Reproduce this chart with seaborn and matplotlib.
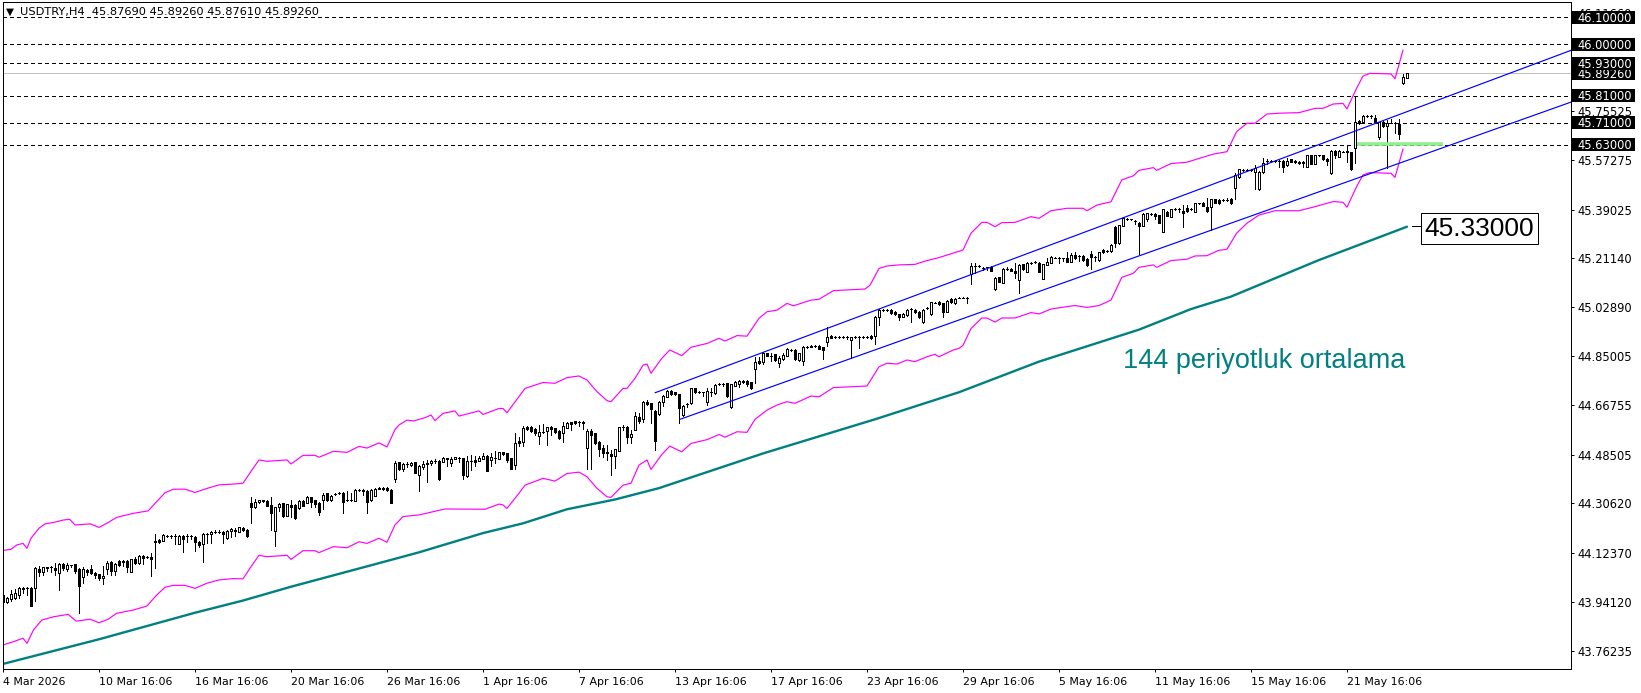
import matplotlib
matplotlib.use("Agg")
import matplotlib.pyplot as plt
from matplotlib.patches import Rectangle
import numpy as np
import seaborn as sns

OPEN = [
43.968,43.943,43.952,43.955,43.969,43.995,43.992,43.995,43.992,44.064,
44.054,44.068,44.069,44.068,44.048,44.082,44.064,44.078,44.081,44.064,
44.033,44.060,44.064,44.050,44.044,44.032,44.064,44.091,44.057,44.093,
44.089,44.093,44.054,44.102,44.084,44.112,44.108,44.107,44.163,44.171,
44.168,44.186,44.187,44.187,44.156,44.185,44.187,44.185,44.183,44.164,
44.155,44.192,44.192,44.201,44.200,44.199,44.178,44.204,44.205,44.201,
44.216,44.208,44.308,44.294,44.310,44.317,44.316,44.300,44.205,44.291,
44.306,44.260,44.300,44.300,44.287,44.316,44.308,44.328,44.318,44.308,
44.318,44.343,44.318,44.339,44.343,44.345,44.318,44.318,44.316,44.355,
44.354,44.353,44.318,44.334,44.364,44.361,44.361,44.355,44.395,44.457,
44.431,44.451,44.447,44.457,44.410,44.441,44.452,44.453,44.462,44.462,
44.460,44.472,44.456,44.470,44.474,44.473,44.408,44.462,44.466,44.463,
44.471,44.481,44.466,44.474,44.471,44.494,44.490,44.473,44.449,44.536,
44.533,44.588,44.588,44.579,44.556,44.570,44.573,44.586,44.583,44.573,
44.567,44.585,44.605,44.608,44.607,44.605,44.511,44.573,44.564,44.531,
44.509,44.494,44.488,44.482,44.500,44.586,44.588,44.552,44.577,44.626,
44.617,44.681,44.675,44.647,44.634,44.681,44.700,44.721,44.716,44.708,
44.632,44.673,44.675,44.730,44.718,44.716,44.681,44.718,44.712,44.746,
44.746,44.749,44.660,44.740,44.746,44.759,44.758,44.753,44.801,44.831,
44.829,44.860,44.851,44.856,44.825,44.837,44.851,44.872,44.872,44.835,
44.833,44.884,44.884,44.887,44.888,44.882,44.900,44.924,44.921,44.920,
44.919,44.919,44.909,44.921,44.921,44.921,44.919,44.924,44.924,44.992,
45.020,45.020,45.020,45.013,45.003,44.995,45.001,45.022,45.020,45.013,
44.974,45.026,45.003,45.047,45.050,45.044,45.013,45.060,45.044,45.065,
45.065,45.065,45.151,45.183,45.183,45.174,45.177,45.180,45.096,45.140,
45.121,45.171,45.171,45.164,45.130,45.189,45.161,45.194,45.196,45.194,
45.135,45.186,45.194,45.213,45.213,45.210,45.213,45.198,45.223,45.220,
45.220,45.208,45.225,45.216,45.204,45.241,45.237,45.237,45.327,45.266,
45.331,45.356,45.354,45.349,45.342,45.331,45.356,45.374,45.374,45.370,
45.309,45.383,45.364,45.392,45.392,45.386,45.395,45.392,45.383,45.413,
45.416,45.401,45.399,45.429,45.426,45.426,45.426,45.430,45.469,45.512,
45.537,45.537,45.537,45.530,45.465,45.528,45.571,45.571,45.570,45.571,
45.570,45.553,45.576,45.571,45.567,45.565,45.549,45.590,45.559,45.590,
45.590,45.577,45.524,45.608,45.586,45.604,45.608,45.601,45.617,45.719,
45.715,45.735,45.735,45.727,45.657,45.715,45.699,45.711,45.709,45.706,
45.856,45.8769]
HIGH = [
43.986,43.961,43.986,43.989,43.996,43.996,43.998,43.998,44.072,44.075,
44.072,44.072,44.075,44.084,44.084,44.084,44.084,44.080,44.083,44.066,
44.070,44.064,44.078,44.053,44.046,44.075,44.093,44.094,44.085,44.097,
44.096,44.096,44.101,44.109,44.115,44.115,44.113,44.121,44.192,44.175,
44.192,44.190,44.190,44.192,44.190,44.188,44.192,44.188,44.186,44.166,
44.195,44.195,44.204,44.207,44.207,44.203,44.207,44.213,44.216,44.219,
44.219,44.210,44.331,44.322,44.320,44.320,44.318,44.331,44.293,44.306,
44.308,44.304,44.318,44.302,44.318,44.318,44.333,44.330,44.320,44.310,
44.343,44.345,44.337,44.343,44.347,44.347,44.353,44.343,44.357,44.358,
44.357,44.356,44.357,44.362,44.367,44.365,44.365,44.357,44.463,44.459,
44.456,44.457,44.459,44.459,44.446,44.462,44.466,44.466,44.468,44.464,
44.478,44.475,44.478,44.478,44.477,44.475,44.481,44.484,44.481,44.481,
44.493,44.483,44.493,44.499,44.496,44.496,44.492,44.475,44.564,44.549,
44.591,44.591,44.590,44.585,44.595,44.599,44.588,44.591,44.585,44.575,
44.606,44.606,44.607,44.610,44.610,44.610,44.580,44.580,44.566,44.536,
44.521,44.521,44.503,44.507,44.589,44.594,44.590,44.577,44.642,44.638,
44.683,44.687,44.677,44.650,44.684,44.706,44.724,44.723,44.718,44.710,
44.669,44.676,44.733,44.732,44.721,44.718,44.733,44.733,44.745,44.749,
44.749,44.751,44.748,44.759,44.761,44.761,44.760,44.755,44.847,44.847,
44.864,44.862,44.860,44.858,44.849,44.862,44.878,44.875,44.874,44.862,
44.886,44.887,44.890,44.890,44.890,44.884,44.956,44.926,44.924,44.923,
44.922,44.922,44.921,44.924,44.924,44.924,44.922,44.926,44.997,45.024,
45.023,45.023,45.022,45.015,45.005,45.007,45.022,45.028,45.022,45.015,
45.022,45.030,45.050,45.050,45.052,45.046,45.055,45.062,45.065,45.068,
45.068,45.068,45.192,45.192,45.186,45.177,45.180,45.182,45.141,45.142,
45.173,45.180,45.173,45.194,45.188,45.191,45.196,45.197,45.199,45.196,
45.191,45.210,45.218,45.216,45.216,45.213,45.233,45.229,45.233,45.223,
45.222,45.210,45.237,45.219,45.234,45.243,45.240,45.262,45.329,45.335,
45.364,45.359,45.357,45.352,45.344,45.376,45.379,45.377,45.376,45.372,
45.394,45.385,45.394,45.395,45.395,45.407,45.407,45.395,45.415,45.416,
45.418,45.432,45.431,45.431,45.428,45.429,45.432,45.432,45.524,45.541,
45.540,45.540,45.540,45.553,45.532,45.580,45.577,45.574,45.573,45.574,
45.572,45.580,45.578,45.573,45.569,45.570,45.592,45.592,45.592,45.593,
45.592,45.579,45.610,45.610,45.610,45.607,45.628,45.603,45.804,45.721,
45.740,45.738,45.740,45.740,45.715,45.721,45.721,45.724,45.712,45.724,
45.891,45.8926]
LOW = [
43.939,43.937,43.947,43.952,43.955,43.976,43.968,43.928,43.947,44.039,
44.041,44.056,44.054,44.041,43.986,44.060,44.057,44.072,44.048,43.902,
44.013,44.041,44.044,44.029,44.023,44.009,44.044,44.041,44.041,44.075,
44.075,44.054,44.054,44.082,44.082,44.081,44.104,44.039,44.066,44.160,
44.165,44.183,44.177,44.156,44.154,44.128,44.164,44.175,44.131,44.144,
44.091,44.158,44.158,44.196,44.195,44.158,44.176,44.183,44.187,44.199,
44.205,44.180,44.235,44.287,44.308,44.310,44.295,44.208,44.150,44.279,
44.254,44.258,44.257,44.249,44.285,44.295,44.306,44.291,44.294,44.263,
44.285,44.316,44.316,44.335,44.339,44.271,44.314,44.314,44.314,44.350,
44.337,44.271,44.316,44.332,44.358,44.354,44.352,44.306,44.386,44.429,
44.427,44.441,44.445,44.417,44.353,44.431,44.386,44.447,44.453,44.392,
44.458,44.444,44.444,44.468,44.460,44.396,44.402,44.429,44.444,44.461,
44.469,44.424,44.444,44.456,44.469,44.485,44.460,44.432,44.434,44.519,
44.519,44.577,44.571,44.558,44.524,44.567,44.521,44.558,44.564,44.545,
44.533,44.583,44.577,44.600,44.592,44.580,44.431,44.431,44.525,44.481,
44.476,44.466,44.410,44.435,44.498,44.577,44.530,44.530,44.575,44.601,
44.607,44.670,44.601,44.503,44.632,44.666,44.698,44.706,44.706,44.601,
44.630,44.663,44.673,44.714,44.712,44.703,44.669,44.703,44.710,44.743,
44.739,44.700,44.658,44.738,44.734,44.751,44.739,44.728,44.749,44.820,
44.820,44.848,44.831,44.833,44.810,44.835,44.849,44.868,44.835,44.833,
44.817,44.880,44.882,44.883,44.874,44.839,44.887,44.915,44.918,44.917,
44.916,44.914,44.841,44.918,44.880,44.918,44.916,44.913,44.894,44.964,
45.017,45.017,45.005,45.001,44.983,44.993,44.999,44.974,45.010,44.990,
44.972,45.022,45.001,45.044,45.038,44.995,45.011,45.046,45.042,45.062,
45.062,45.044,45.116,45.155,45.180,45.167,45.167,45.162,45.094,45.122,
45.119,45.168,45.162,45.137,45.081,45.169,45.159,45.191,45.193,45.159,
45.133,45.184,45.192,45.210,45.194,45.200,45.196,45.196,45.208,45.200,
45.202,45.183,45.171,45.202,45.202,45.230,45.234,45.235,45.251,45.264,
45.329,45.353,45.351,45.336,45.226,45.329,45.348,45.371,45.356,45.340,
45.307,45.365,45.362,45.389,45.383,45.327,45.383,45.389,45.381,45.410,
45.403,45.383,45.315,45.414,45.411,45.423,45.423,45.412,45.430,45.506,
45.534,45.534,45.534,45.465,45.463,45.526,45.558,45.568,45.567,45.549,
45.530,45.551,45.565,45.563,45.559,45.549,45.547,45.557,45.557,45.587,
45.575,45.555,45.522,45.580,45.584,45.601,45.565,45.537,45.561,45.707,
45.713,45.732,45.730,45.711,45.651,45.695,45.543,45.708,45.672,45.651,
45.854,45.8761]
CLOSE = [
43.943,43.955,43.970,43.974,43.995,43.991,43.993,43.928,44.068,44.054,
44.070,44.069,44.070,44.060,44.082,44.066,44.078,44.077,44.057,44.001,
44.064,44.052,44.048,44.043,44.030,44.039,44.085,44.057,44.082,44.078,
44.093,44.070,44.099,44.084,44.112,44.105,44.109,44.102,44.165,44.163,
44.188,44.187,44.186,44.186,44.187,44.173,44.186,44.184,44.163,44.153,
44.193,44.191,44.201,44.200,44.201,44.192,44.205,44.211,44.206,44.217,
44.208,44.187,44.294,44.310,44.317,44.316,44.297,44.269,44.291,44.303,
44.260,44.302,44.294,44.253,44.316,44.297,44.330,44.312,44.303,44.275,
44.337,44.318,44.334,44.340,44.344,44.312,44.319,44.319,44.355,44.354,
44.353,44.312,44.355,44.359,44.360,44.360,44.355,44.308,44.454,44.431,
44.451,44.451,44.456,44.419,44.444,44.451,44.453,44.463,44.462,44.396,
44.472,44.471,44.468,44.476,44.474,44.410,44.462,44.462,44.460,44.473,
44.481,44.426,44.476,44.474,44.494,44.488,44.466,44.434,44.530,44.530,
44.583,44.580,44.573,44.564,44.568,44.570,44.586,44.579,44.568,44.547,
44.591,44.602,44.600,44.602,44.607,44.601,44.573,44.558,44.527,44.505,
44.490,44.490,44.482,44.505,44.586,44.586,44.552,44.561,44.628,44.611,
44.681,44.672,44.654,44.537,44.681,44.702,44.722,44.708,44.708,44.659,
44.665,44.673,44.730,44.716,44.718,44.716,44.721,44.718,44.743,44.746,
44.746,44.702,44.746,44.753,44.759,44.753,44.745,44.730,44.826,44.825,
44.862,44.850,44.851,44.835,44.841,44.853,44.874,44.872,44.837,44.860,
44.884,44.884,44.888,44.887,44.876,44.872,44.919,44.917,44.921,44.920,
44.919,44.919,44.919,44.921,44.921,44.921,44.919,44.915,44.995,45.020,
45.020,45.020,45.007,45.003,44.995,45.005,45.020,45.022,45.012,44.992,
45.020,45.026,45.048,45.047,45.040,45.013,45.053,45.048,45.060,45.065,
45.065,45.065,45.182,45.183,45.183,45.174,45.177,45.164,45.139,45.124,
45.171,45.171,45.164,45.155,45.186,45.171,45.194,45.194,45.196,45.161,
45.189,45.198,45.216,45.213,45.213,45.210,45.198,45.223,45.210,45.220,
45.204,45.185,45.216,45.216,45.232,45.232,45.237,45.260,45.266,45.333,
45.358,45.356,45.354,45.349,45.330,45.374,45.376,45.374,45.368,45.342,
45.392,45.367,45.392,45.392,45.392,45.376,45.385,45.392,45.413,45.413,
45.405,45.385,45.429,45.416,45.413,45.426,45.426,45.414,45.518,45.539,
45.537,45.537,45.537,45.543,45.530,45.564,45.571,45.571,45.570,45.571,
45.549,45.571,45.567,45.565,45.561,45.561,45.590,45.559,45.590,45.590,
45.577,45.570,45.608,45.590,45.608,45.604,45.601,45.539,45.713,45.709,
45.736,45.735,45.735,45.713,45.713,45.697,45.709,45.711,45.709,45.668,
45.878,45.8926]

UPPER_BAR = [0,2,3.4,5,6,7,9,10.5,12.6,15,16.7,18,21.8,24,26.3,28.4,32.6,36.3,38.4,40.5,42.6,45.5,48,51,54,57.6,60,
             62,64,66,71,72,75,78,79,82.6,86,89,91,94,96,98,99,101,102.6,105.5,107,108,110,113,114,119,120,124,125,126,
             129,130.5,135,138,141,144,146,148.5,151,152,155,156,158,160,161,162,164.7,166.7,169.7,172,176,179,180.5,
             183.5,186,189,191,193.5,196,197.6,202,204,207.6,215.5,216.8,219,221,224,228,230.5,234,236.8,240,242,244.7,
             246,248,249.7,253,257,259,262,266,270,271,273.5,277,279.7,282.6,284,287.6,288.4,292,296,299,302.6,306,
             308.4,311,313,316,319,324,328,330,332.6,335,336,338.4,340,341.7,347,348,350]
UPPER_VAL = [44.132,44.136,44.152,44.158,44.140,44.177,44.214,44.230,44.235,44.244,44.247,44.226,44.230,44.217,44.235,44.254,44.269,44.278,44.312,44.345,44.358,44.358,44.346,44.361,44.374,44.377,44.380,
             44.424,44.466,44.461,44.466,44.451,44.483,44.483,44.476,44.498,44.494,44.516,44.510,44.529,44.514,44.578,44.595,44.613,44.610,44.622,44.632,44.611,44.638,44.647,44.628,44.647,44.634,44.656,44.656,44.640,
             44.700,44.730,44.752,44.749,44.770,44.776,44.761,44.718,44.685,44.681,44.730,44.730,44.767,44.816,44.820,44.786,44.841,44.872,44.851,44.882,44.896,44.915,44.905,
             44.925,44.923,44.989,45.013,45.019,45.044,45.035,45.056,45.059,45.091,45.097,45.112,45.173,45.182,45.186,45.188,45.200,45.213,45.226,45.241,45.303,45.343,
             45.343,45.327,45.342,45.343,45.364,45.358,45.386,45.395,45.395,45.386,45.407,45.419,45.500,45.515,45.535,45.545,45.535,45.560,45.565,45.579,45.595,45.604,
             45.678,45.709,45.709,45.743,45.746,45.748,45.764,45.764,45.780,45.782,45.762,45.838,45.883,45.893,45.891,45.873,45.979]
LOWER_BAR = [0,2.6,5,6,7.6,9.7,12.6,16.3,18.3,21.8,24,26.3,28.4,32.6,36,38.4,40.5,42.6,45.5,48,51,54,57.6,60,62,64,66,71,72,75,78,79,82.6,86,89,91,94,96,98,100,104,
             110.5,120.5,124,125,126,129,130.5,135,138,141,144,146,148.5,151,152,155,157,159,161,162,164.7,166.7,169.7,172,176,179,180.5,183.5,186,188,191,193.5,196,198,202,204,207.6,216,219,221,223.5,226,228,231,233,234,237.6,239,
             240,242,244.7,246,248,249.7,253,257,259,262,266,268,271,274,277,279.7,282.6,284,287.6,288.4,292,296,298,301,303.8,306,308.4,311,314,318,324,328,332.6,335,336,338.4,340,341.7,347,348,350]
LOWER_VAL = [43.783,43.795,43.808,43.789,43.838,43.875,43.887,43.896,43.871,43.878,43.865,43.878,43.900,43.912,43.927,43.967,43.996,44.003,44.003,43.992,44.011,44.023,44.028,44.027,44.072,44.114,44.109,44.114,44.099,44.131,44.131,44.124,44.146,44.142,44.164,44.158,44.177,44.162,44.226,44.257,44.263,
             44.285,44.284,44.303,44.300,44.287,44.343,44.373,44.398,44.388,44.416,44.421,44.404,44.361,44.330,44.328,44.373,44.380,44.447,44.466,44.431,44.486,44.517,44.496,44.527,44.541,44.560,44.550,44.570,44.568,44.616,44.650,44.669,44.681,44.675,44.702,44.699,44.733,44.739,44.810,44.823,44.820,44.835,44.829,44.847,44.856,44.847,44.872,44.878,
             44.889,44.951,44.990,44.990,44.975,44.990,44.990,45.010,45.005,45.023,45.032,45.036,45.029,45.036,45.056,45.140,45.155,45.177,45.186,45.177,45.202,45.207,45.219,45.220,45.239,45.244,45.303,45.340,45.370,45.386,45.386,45.401,45.420,45.417,45.399,45.475,45.518,45.527,45.524,45.509,45.614]
MA_BAR = [0,24,48,60,72,96,104,120,130,141,153,164,190,218,239,259,284,297,307,329,351]
MA_VAL = [43.713,43.804,43.902,43.947,43.998,44.093,44.125,44.196,44.232,44.284,44.320,44.362,44.490,44.616,44.716,44.829,44.947,45.023,45.069,45.204,45.327]

CH_UP_BAR = [163, 392]
CH_UP_VAL = [44.714, 45.978]
CH_LO_BAR = [169.25, 392]
CH_LO_VAL = [44.616, 45.787]

LEVELS = [46.1, 46.0, 45.93, 45.81, 45.71, 45.63]
LEVEL_LABELS = ["46.10000", "46.00000", "45.93000", "45.81000", "45.71000", "45.63000"]
BID = 45.8926
Y_TICKS = [46.1166, 45.75525, 45.57275, 45.39025, 45.2114, 45.0289, 44.85005, 44.66755, 44.48505, 44.3062, 44.1237, 43.9412, 43.76235]
Y_LABELS = ["46.11660", "45.75525", "45.57275", "45.39025", "45.21140", "45.02890", "44.85005", "44.66755", "44.48505", "44.30620", "44.12370", "43.94120", "43.76235"]
X_TICKS = [0, 24, 48, 72, 96, 120, 144, 168, 192, 216, 240, 264, 288, 312, 336]
X_LABELS = ["4 Mar 2026", "10 Mar 16:06", "16 Mar 16:06", "20 Mar 16:06", "26 Mar 16:06", "1 Apr 16:06", "7 Apr 16:06",
            "13 Apr 16:06", "17 Apr 16:06", "23 Apr 16:06", "29 Apr 16:06", "5 May 16:06", "11 May 16:06", "15 May 16:06", "21 May 16:06"]
HEADER = "USDTRY,H4  45.87690 45.89260 45.87610 45.89260"
MA_TEXT = "144 periyotluk ortalama"
MA_LABEL = 45.33

sns.set_theme(style="white")
plt.rcParams["font.family"] = ["DejaVu Sans"]

W, H = 1641, 693
fig = plt.figure(figsize=(W / 100, H / 100), dpi=100, facecolor="white")
ax = fig.add_axes([3 / W, (H - 669) / H, 1568 / W, 667 / H])
PX = 0.72

idx = np.arange(len(CLOSE))
o, h, l, c = map(np.array, (OPEN, HIGH, LOW, CLOSE))

for lev in LEVELS:
    ax.axhline(lev, color="black", lw=PX, dashes=(4, 3), zorder=1, antialiased=False)
ax.axhline(BID, color="#c0c0c0", lw=PX, zorder=1, antialiased=False)

sns.lineplot(x=MA_BAR, y=MA_VAL, ax=ax, color="#008080", lw=1.7, estimator=None, sort=False, zorder=2)
sns.lineplot(x=UPPER_BAR, y=UPPER_VAL, ax=ax, color="#ff00ff", lw=0.85, estimator=None, sort=False, zorder=2)
sns.lineplot(x=LOWER_BAR, y=LOWER_VAL, ax=ax, color="#ff00ff", lw=0.85, estimator=None, sort=False, zorder=2)

ax.vlines(idx, l, h, color="black", lw=PX, zorder=3, antialiased=False)
colors = ["black" if cc < oo else "white" for oo, cc in zip(o, c)]
ax.bar(idx, c - o, bottom=o, width=0.5, color=colors, edgecolor="black", linewidth=PX, zorder=4, antialiased=False)

sns.lineplot(x=CH_UP_BAR, y=CH_UP_VAL, ax=ax, color="#0000ff", lw=0.85, estimator=None, zorder=5)
sns.lineplot(x=CH_LO_BAR, y=CH_LO_VAL, ax=ax, color="#0000ff", lw=0.85, estimator=None, zorder=5)
ax.plot([338.5, 360], [45.634, 45.634], color="#90f090", lw=2.6, solid_capstyle="butt", zorder=4)

ax.set_xlim(0, 392)
ax.set_ylim(43.6943, 46.1565)
ax.yaxis.tick_right()
ax.set_yticks(Y_TICKS, Y_LABELS)
ax.set_xticks(X_TICKS, X_LABELS)
ax.tick_params(axis="x", length=2.5, width=PX, color="black", labelcolor="black", labelsize=7.9, pad=3.5, bottom=True)
ax.tick_params(axis="y", length=2.5, width=PX, color="black", labelcolor="black", labelsize=8.3, pad=2, right=True)
for t in ax.get_xticklabels():
    t.set_ha("left")
for s in ax.spines.values():
    s.set_color("black")
    s.set_linewidth(PX)
    s.set_visible(True)
ax.set_xlabel("")
ax.set_ylabel("")

trans = ax.get_yaxis_transform()
box_left = (1572 - 3) / 1568
box_width = 63 / 1568
text_x = (1577 - 3) / 1568
box_h = 13 / 270.9
def tag(val, txt, z):
    ax.add_patch(Rectangle((box_left, val - box_h / 2), box_width, box_h, transform=trans, fc="black", ec="none", clip_on=False, zorder=z))
    ax.text(text_x, val - 0.003, txt, transform=trans, color="white", fontsize=8.3, va="center", ha="left", clip_on=False, zorder=z + 0.1)

tag(BID, "45.89260", 10)
z = 11
for lev, txt in zip(LEVELS, LEVEL_LABELS):
    tag(lev, txt, z)
    z += 1

fig.text(6 / W, 1 - 12 / H, "\u25BC", fontsize=7.5, color="black", va="center", ha="left")
fig.text(20 / W, 1 - 12.5 / H, HEADER, fontsize=8.2, color="black", va="center", ha="left")

ax.text(315.2, 44.83, MA_TEXT, color="#008080", family="Liberation Sans", fontsize=19.5, ha="center", va="center", zorder=6)
ax.plot([352.25, 354.75], [MA_LABEL, MA_LABEL], color="black", lw=PX, zorder=6, antialiased=False)
ax.text(369.1, 45.32, f"{MA_LABEL:.5f}", color="black", family="Liberation Sans", fontsize=19, ha="center", va="center", zorder=7,
        bbox=dict(boxstyle="square,pad=0.14", fc="white", ec="black", lw=PX))

fig.savefig("out.png", dpi=100, facecolor="white")
